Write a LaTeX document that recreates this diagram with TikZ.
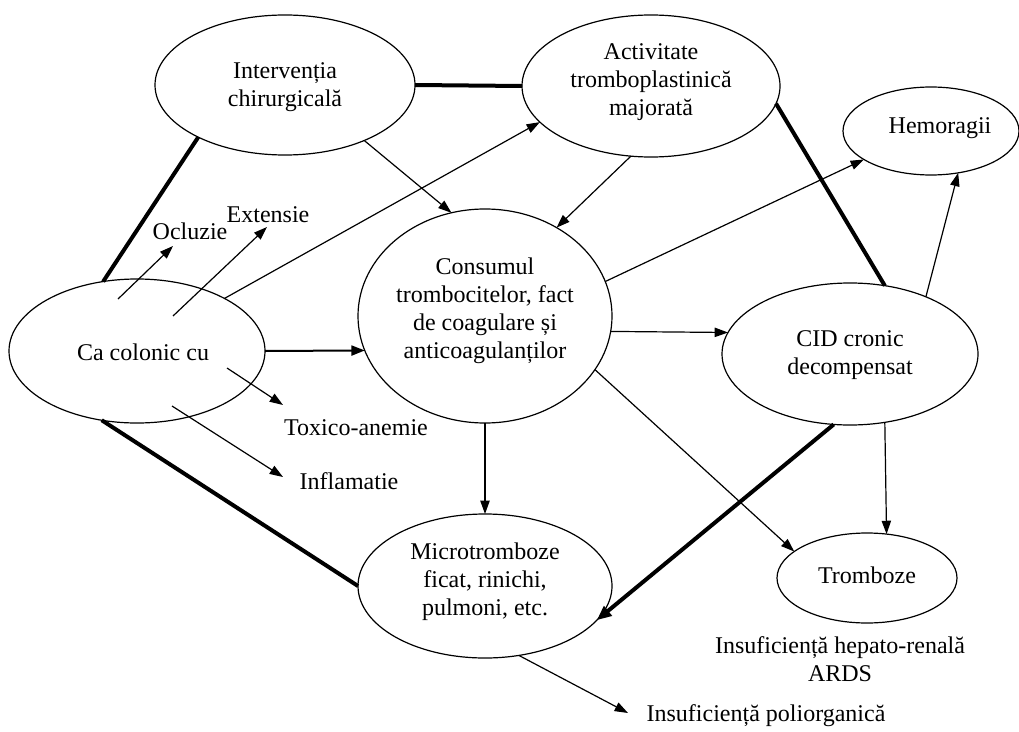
\documentclass[tikz,border=0pt]{standalone}
\usepackage{fontspec}
\setmainfont{Liberation Serif}
\usetikzlibrary{shapes.geometric,arrows.meta}
\begin{document}
\begin{tikzpicture}[x=0.75pt,y=-0.75pt,
 ell/.style={draw,ellipse,line width=0.9pt,inner sep=0pt,outer sep=0pt},
 txt/.style={align=center,font=\fontsize{18}{21}\selectfont,inner sep=0pt},
 thinarr/.style={line width=0.9pt,-{Triangle[length=10pt,width=7pt]}},
 medarr/.style={line width=1.5pt,-{Triangle[length=10pt,width=7.5pt]}},
 heavy/.style={line width=3pt},
 heavyarr/.style={line width=3pt,-{Triangle[length=11pt,width=9pt]}}]
\fill[white] (0,0) rectangle (1019,731);
\useasboundingbox (0,0) rectangle (1019,731);

% ellipses
\node[ell,minimum width=195pt,minimum height=105pt] (I) at (285,85) {};
\node[ell,minimum width=193.5pt,minimum height=106.5pt] (A) at (651,86) {};
\node[ell,minimum width=132pt,minimum height=66pt] (H) at (931,131) {};
\node[ell,minimum width=192pt,minimum height=108pt] (C) at (137,351) {};
\node[ell,minimum width=190.5pt,minimum height=160.5pt] (K) at (485,316) {};
\node[ell,minimum width=192pt,minimum height=106.5pt] (D) at (850,354) {};
\node[ell,minimum width=190.5pt,minimum height=108pt] (M) at (485,586) {};
\node[ell,minimum width=135pt,minimum height=67.5pt] (T) at (867,578) {};

% texts in ellipses
\node[txt] (It) at (285,87) {Intervenția\\chirurgicală};
\node[txt] (At) at (651,82) {Activitate\\tromboplastinică\\majorată};
\node[txt] (Ht) at (940,128) {Hemoragii};
\node[txt] (Ct) at (143,352) {Ca colonic cu};
\node[txt] (Kt) at (485,311) {Consumul\\trombocitelor, fact\\de coagulare și\\anticoagulanților};
\node[txt] (Dt) at (850,355) {CID cronic\\decompensat};
\node[txt] (Mt) at (485,582) {Microtromboze\\ficat, rinichi,\\pulmoni, etc.};
\node[txt] (Tt) at (867,575) {Tromboze};

% free labels
\node[txt] (ocl) at (190,231) {Ocluzie};
\node[txt] (ext) at (268,215) {Extensie};
\node[txt] (tox) at (356,428) {Toxico-anemie};
\node[txt] (inf) at (349,481) {Inflamatie};
\node[txt] (hep) at (840,659) {Insuficiență hepato-renală\\ARDS};
\node[txt] (pol) at (766,716) {Insuficiență poliorganică};

% free ends
\coordinate (oclS) at (118,299);
\coordinate (oclE) at (173,246);
\coordinate (extS) at (173,316);
\coordinate (extE) at (267,227);
\coordinate (toxS) at (227,368);
\coordinate (toxE) at (283,405);
\coordinate (infS) at (172,406);
\coordinate (infE) at (283,477);
\coordinate (polE) at (628,713);

% heavy lines
\draw[heavy] (I.east) -- (A.west);
\draw[heavy] (I.211) -- (C.116);
\draw[heavy] (A.-8) -- (D.63);
\draw[heavy] (C.243) -- (M.west);
\draw[heavyarr] (D.257) -- (M.-17);

% arrows
\draw[thinarr] (I.-35) -- (K.108);
\draw[thinarr] (C.31) -- (A.198);
\draw[thinarr] (A.254) -- (K.51);
\draw[thinarr] (K.16) -- (H.203);
\draw[thinarr] (D.37) -- (H.-57);
\draw[medarr] (C.east) -- (K.196);
\draw[thinarr] (K.-7.5) -- (D.170);
\draw[thinarr] (K.south) -- (M.north);
\draw[thinarr] (K.-26) -- (T.160);
\draw[thinarr] (D.-63) -- (T.66);
\draw[thinarr] (M.-64) -- (polE);
\draw[thinarr] (oclS) -- (oclE);
\draw[thinarr] (extS) -- (extE);
\draw[thinarr] (toxS) -- (toxE);
\draw[thinarr] (infS) -- (infE);
\end{tikzpicture}
\end{document}
